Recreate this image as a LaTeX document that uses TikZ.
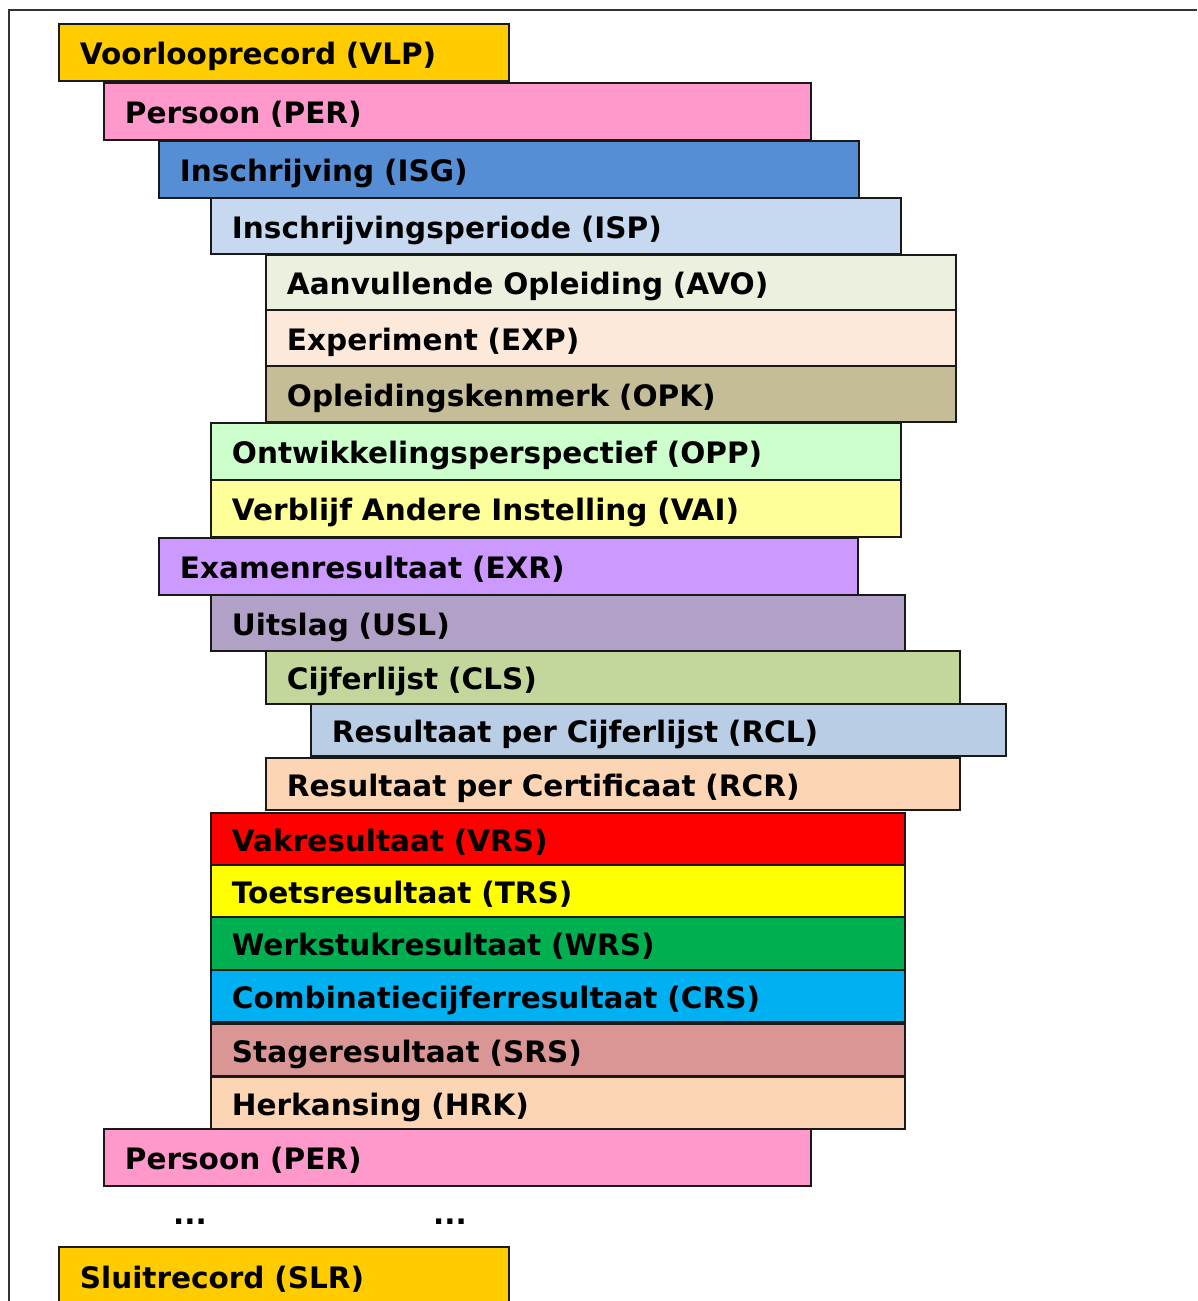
\documentclass[tikz,border=0pt]{standalone}
\usepackage{fontspec}
\setmainfont{DejaVu Sans}
\usetikzlibrary{positioning}

\definecolor{recgold}{HTML}{FFCC00}
\definecolor{recpink}{HTML}{FF99CC}
\definecolor{recblue}{HTML}{558ED5}
\definecolor{recpaleblue}{HTML}{C6D9F1}
\definecolor{recpalegreen}{HTML}{EBF1DE}
\definecolor{recpaleorange}{HTML}{FDE9D9}
\definecolor{reckhaki}{HTML}{C4BD97}
\definecolor{recmint}{HTML}{CCFFCC}
\definecolor{reclemon}{HTML}{FFFF99}
\definecolor{reclilac}{HTML}{CC99FF}
\definecolor{recmauve}{HTML}{B2A1C7}
\definecolor{recolive}{HTML}{C3D69B}
\definecolor{recsteel}{HTML}{B9CDE5}
\definecolor{recpeach}{HTML}{FCD5B5}
\definecolor{recred}{HTML}{FF0000}
\definecolor{recyellow}{HTML}{FFFF00}
\definecolor{recgreen}{HTML}{00B050}
\definecolor{reccyan}{HTML}{00B0F0}
\definecolor{recrose}{HTML}{D99694}

\tikzset{
  rec/.style={draw=black!90, line width=1.1pt, anchor=north west, inner xsep=0.42cm,
    inner ysep=0pt, align=left, text height=0.5cm, text depth=0pt,
    font=\bfseries\fontsize{16.8}{19}\selectfont},
  dots/.style={font=\bfseries\fontsize{16.8}{19}\selectfont, inner sep=0pt}
}

\begin{document}
\begin{tikzpicture}[x=0.02cm, y=-0.02cm]
  \useasboundingbox (0,0) rectangle (1197,1301);
  % outer frame
  \draw[line width=1.1pt, black!80] (9,1301) -- (9,10) -- (1197,10);
  % record boxes: name/left/top/right/bottom/colour/text
  \foreach \nm/\xl/\yt/\xr/\yb/\col/\txt in {
    vlp/58/23/508/80/recgold/Voorlooprecord (VLP),
    per/103/82/810/139/recpink/Persoon (PER),
    isg/158/140/858/197/recblue/Inschrijving (ISG),
    isp/210/197/900/253/recpaleblue/Inschrijvingsperiode (ISP),
    avo/265/254/955/309/recpalegreen/Aanvullende Opleiding (AVO),
    exp/265/309/955/365/recpaleorange/Experiment (EXP),
    opk/265/365/955/421/reckhaki/Opleidingskenmerk (OPK),
    opp/210/422/900/479/recmint/Ontwikkelingsperspectief (OPP),
    vai/210/479/900/536/reclemon/Verblijf Andere Instelling (VAI),
    exr/158/537/857/594/reclilac/Examenresultaat (EXR),
    usl/210/594/904/650/recmauve/Uitslag (USL),
    cls/265/650/959/703/recolive/Cijferlijst (CLS),
    rcl/310/703/1005/755/recsteel/Resultaat per Cijferlijst (RCL),
    rcr/265/757/959/809/recpeach/Resultaat per Certificaat (RCR),
    vrs/210/812/904/864/recred/Vakresultaat (VRS),
    trs/210/864/904/916/recyellow/Toetsresultaat (TRS),
    wrs/210/916/904/969/recgreen/Werkstukresultaat (WRS),
    crs/210/969/904/1021/reccyan/Combinatiecijferresultaat (CRS),
    srs/210/1023/904/1075/recrose/Stageresultaat (SRS),
    hrk/210/1076/904/1128/recpeach/Herkansing (HRK),
    pertwo/103/1128/810/1185/recpink/Persoon (PER),
    slr/58/1246/508/1304/recgold/Sluitrecord (SLR)} {
    \pgfmathsetmacro\boxw{(\xr-\xl)*0.02}
    \pgfmathsetmacro\textw{(\xr-\xl)*0.02-0.84}
    \pgfmathsetmacro\boxh{(\yb-\yt)*0.02}
    \node[rec, fill=\col, minimum width=\boxw cm, minimum height=\boxh cm, text width=\textw cm] (\nm) at (\xl,\yt) {\txt};
  }
  \node[dots] (dotsa) at (190,1222) {...};
  \node[dots] (dotsb) at (450,1222) {...};
\end{tikzpicture}
\end{document}
